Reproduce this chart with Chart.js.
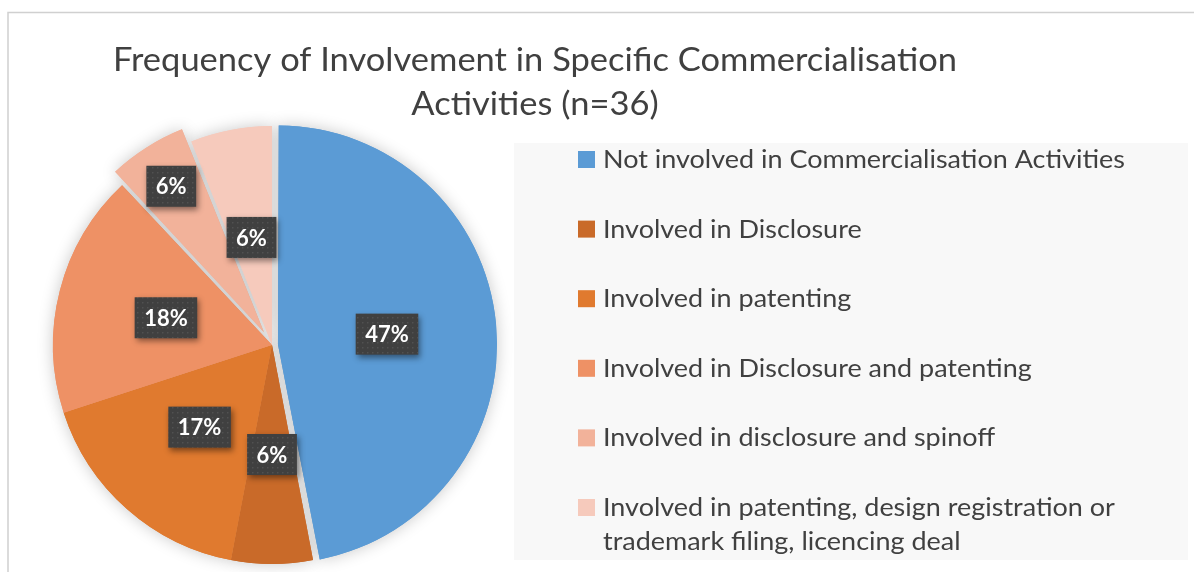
<!DOCTYPE html>
<html lang="en">
<head>
<meta charset="UTF-8" />
<title>Commercialisation Activities</title>
<script src="https://cdn.jsdelivr.net/npm/chart.js"></script>
<style>
  html, body { margin: 0; padding: 0; background: #fff; }
  #wrap { width: 1194px; height: 572px; overflow: hidden; }
</style>
</head>
<body>
<div id="wrap"><canvas id="pie" width="1194" height="572"></canvas></div>
<script>
  const titleLines = ['Frequency of Involvement in Specific Commercialisation', 'Activities (n=36)'];
  const categories = [
    'Not involved in Commercialisation Activities',
    'Involved in Disclosure',
    'Involved in patenting',
    'Involved in Disclosure and patenting',
    'Involved in disclosure and spinoff',
    'Involved in patenting, design registration or trademark filing, licencing deal'
  ];
  const shares = [47, 6, 17, 18, 6, 6];
  const sliceColors = ['#5b9bd5', '#c96a29', '#e07a2f', '#ee9165', '#f2b29a', '#f6cabc'];

  // how far each slice is pulled out of the pie, in px
  const explode = [6, 0, 0, 0, 15, 0];
  // position of each value box along the slice bisector (share of radius)
  const labelDepth = [0.5, 0.5, 0.5, 0.5, 0.79, 0.5];

  const FONT = "Lato, 'Open Sans', sans-serif";
  const TEXT = '#404040';

  // draw text squeezed horizontally so a line hits the wanted width
  function drawScaled(ctx, str, x, y, sx) {
    ctx.save();
    ctx.translate(x, y);
    ctx.scale(sx, 1);
    ctx.fillText(str, 0, 0);
    ctx.restore();
  }

  function wrap(ctx, str, maxW) {
    const words = str.split(' ');
    const lines = [];
    let cur = '';
    words.forEach(w => {
      const test = cur ? cur + ' ' + w : w;
      if (cur && ctx.measureText(test).width > maxW) { lines.push(cur); cur = w; }
      else cur = test;
    });
    lines.push(cur);
    return lines;
  }

  // frame, title and legend panel
  const framePlugin = {
    id: 'frame',
    beforeDraw(chart) {
      const ctx = chart.ctx;
      ctx.save();
      ctx.fillStyle = '#fff';
      ctx.fillRect(0, 0, chart.width, chart.height);

      ctx.strokeStyle = '#d0d0d0';
      ctx.lineWidth = 1.5;
      ctx.beginPath();
      ctx.moveTo(8, chart.height);
      ctx.lineTo(8, 12.5);
      ctx.lineTo(chart.width, 12.5);
      ctx.stroke();

      // title
      ctx.fillStyle = TEXT;
      ctx.font = '33px ' + FONT;
      ctx.textBaseline = 'alphabetic';
      const tsx = 844 / ctx.measureText(titleLines[0]).width;
      titleLines.forEach((ln, k) => {
        const w = ctx.measureText(ln).width * tsx;
        drawScaled(ctx, ln, 535 - w / 2, 71 + k * 44, tsx);
      });

      // legend panel
      ctx.fillStyle = '#f8f8f8';
      ctx.fillRect(514, 143, 674, 417);
      ctx.font = '25px ' + FONT;
      const lsx = 522 / ctx.measureText(categories[0]).width;
      categories.forEach((name, i) => {
        const base = 168 + i * 69.6;
        ctx.fillStyle = sliceColors[i];
        ctx.fillRect(578, base - 17, 17, 17);
        ctx.fillStyle = TEXT;
        wrap(ctx, name, 535 / lsx).forEach((ln, k) => drawScaled(ctx, ln, 603, base + k * 34, lsx));
      });
      ctx.restore();
    }
  };

  // Chart.js widens an offset arc's radius; pull it back so every slice keeps one radius
  const evenRadius = {
    id: 'evenRadius',
    afterUpdate(chart) {
      chart.getDatasetMeta(0).data.forEach(arc => {
        const shift = (arc.options.offset || 0) / 4;
        const fix = 1 - Math.sin(Math.min(Math.PI, arc.circumference));
        arc.outerRadius -= shift * fix;
      });
    }
  };

  // soft shadow under the whole pie; shows through the gaps of pulled-out slices
  const pieShadow = {
    id: 'pieShadow',
    beforeDatasetsDraw(chart) {
      const ctx = chart.ctx;
      ctx.save();
      ctx.shadowColor = 'rgba(0,0,0,0.22)';
      ctx.shadowBlur = 16;
      chart.getDatasetMeta(0).data.forEach(arc => arc.draw(ctx));
      ctx.restore();
    }
  };

  // dark value boxes with a faint dot texture
  const valueBoxes = {
    id: 'valueBoxes',
    afterDatasetsDraw(chart) {
      const ctx = chart.ctx;
      const meta = chart.getDatasetMeta(0);
      const R = meta.controller.outerRadius;
      const tile = document.createElement('canvas');
      tile.width = tile.height = 5;
      const t = tile.getContext('2d');
      t.fillStyle = 'rgba(255,255,255,0.09)';
      t.fillRect(2, 2, 1.5, 1.5);
      const dots = ctx.createPattern(tile, 'repeat');

      meta.data.forEach((arc, i) => {
        const mid = (arc.startAngle + arc.endAngle) / 2;
        const r = R * labelDepth[i] + explode[i];
        const cx = arc.x + Math.cos(mid) * r;
        const cy = arc.y + Math.sin(mid) * r;
        const txt = shares[i] + '%';
        ctx.save();
        ctx.font = 'bold 22px ' + FONT;
        const w = ctx.measureText(txt).width + 19;
        const h = 41;
        ctx.shadowColor = 'rgba(0,0,0,0.45)';
        ctx.shadowBlur = 6;
        ctx.shadowOffsetX = 2;
        ctx.shadowOffsetY = 3;
        ctx.fillStyle = '#404040';
        ctx.fillRect(cx - w / 2, cy - h / 2, w, h);
        ctx.shadowColor = 'transparent';
        ctx.fillStyle = dots;
        ctx.fillRect(cx - w / 2, cy - h / 2, w, h);
        ctx.fillStyle = '#fff';
        ctx.textAlign = 'center';
        ctx.textBaseline = 'middle';
        ctx.fillText(txt, cx, cy + 1);
        ctx.restore();
      });
    }
  };

  new Chart(document.getElementById('pie'), {
    type: 'pie',
    data: {
      labels: categories,
      datasets: [{
        data: shares,
        backgroundColor: sliceColors,
        borderWidth: 0,
        offset: explode.map(d => d * 4),
        hoverOffset: 0,
        radius: 219,
        clip: false
      }]
    },
    options: {
      responsive: false,
      animation: false,
      events: [],
      layout: { padding: { left: 45, right: 695, top: 118, bottom: 0 } },
      plugins: {
        legend: { display: false },
        title: { display: false },
        tooltip: { enabled: false }
      }
    },
    plugins: [framePlugin, evenRadius, pieShadow, valueBoxes]
  });
</script>
</body>
</html>
